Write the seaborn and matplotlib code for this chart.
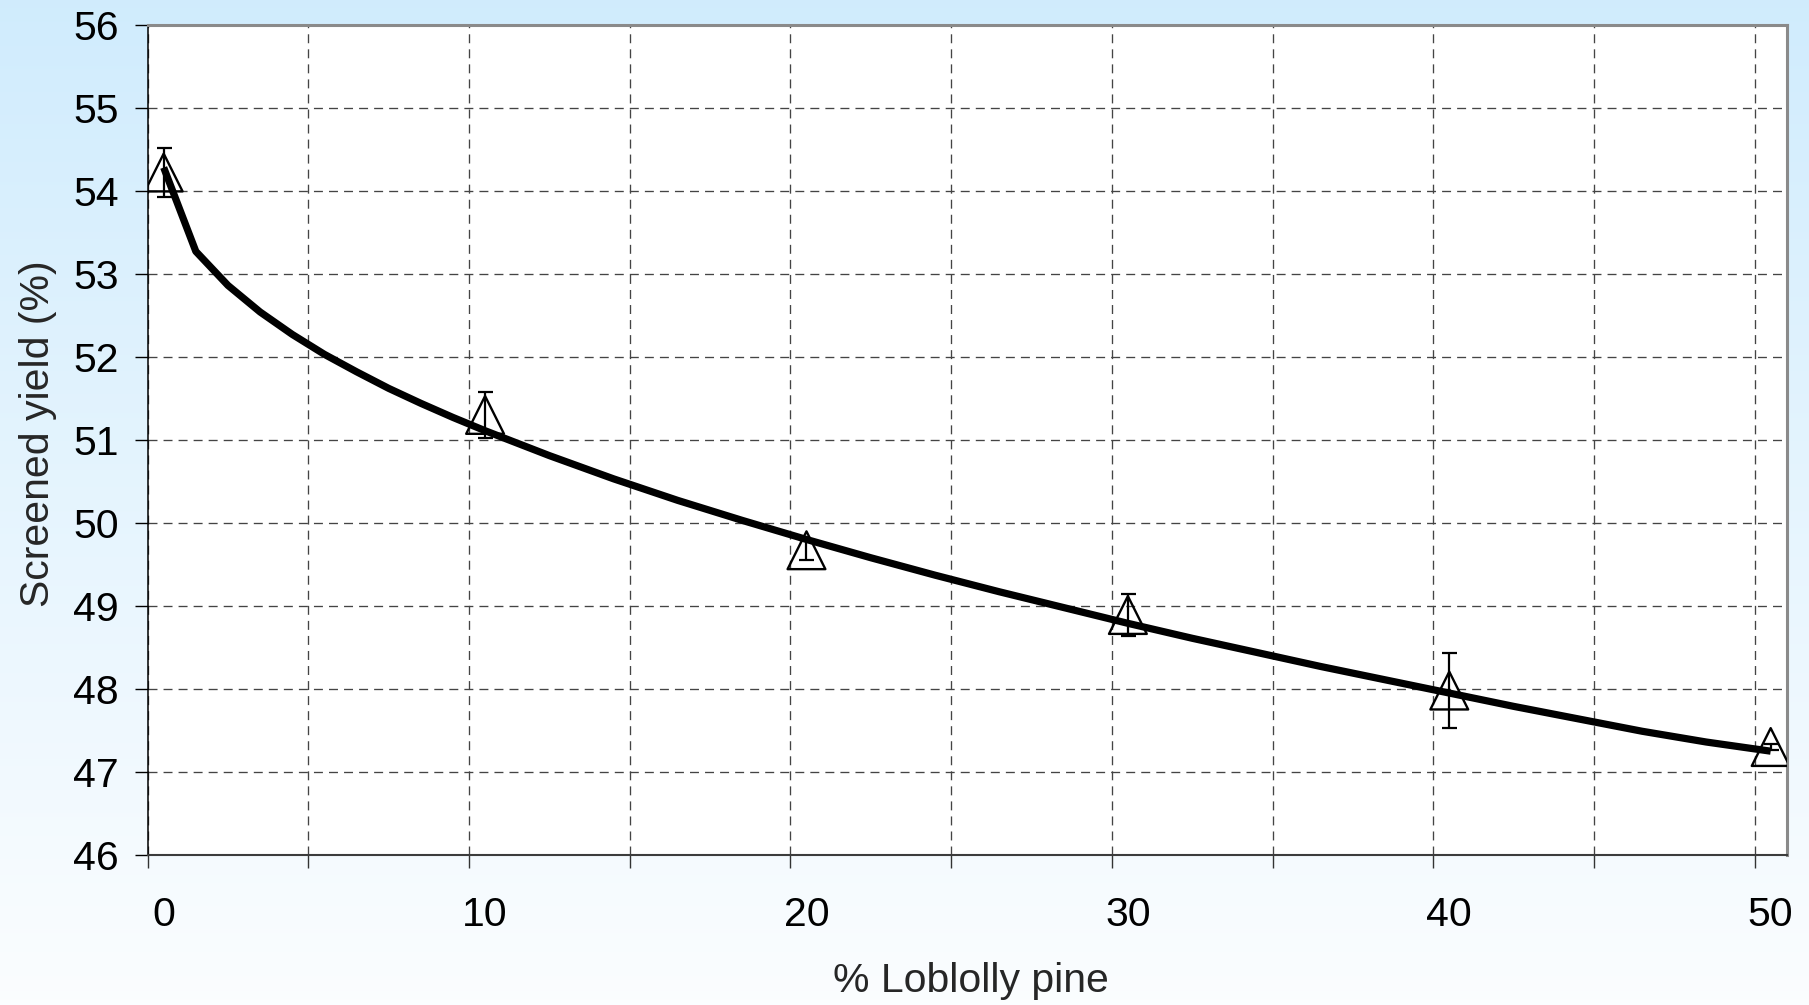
import numpy as np
import matplotlib
matplotlib.use("Agg")
import matplotlib.pyplot as plt
import seaborn as sns
from matplotlib.ticker import FixedLocator

# ---- data ----
pine_pct = [0, 10, 20, 30, 40, 50]
yield_mean = [54.22, 51.30, 49.67, 48.89, 47.98, 47.30]
yield_err = [0.30, 0.28, 0.12, 0.25, 0.45, 0.04]

fit_x = [0, 1, 2, 3, 4, 5, 6, 7, 8, 9, 10, 12, 14, 16, 18, 20, 22, 24, 26, 28,
         30, 32, 34, 36, 38, 40, 42, 44, 46, 48, 50]
fit_y = [54.28, 53.27, 52.86, 52.54, 52.27, 52.03, 51.82, 51.62, 51.44, 51.27,
         51.11, 50.81, 50.53, 50.27, 50.03, 49.80, 49.58, 49.37, 49.17, 48.98,
         48.79, 48.61, 48.44, 48.27, 48.11, 47.95, 47.79, 47.64, 47.49, 47.36,
         47.25]

x_tick_labels = ["0", "10", "20", "30", "40", "50"]
y_ticks = [46, 47, 48, 49, 50, 51, 52, 53, 54, 55, 56]
x_label = "% Loblolly pine"
y_label = "Screened yield (%)"

# ---- style ----
sns.set_style("white")
plt.rcParams["font.family"] = ["Liberation Sans", "DejaVu Sans"]

fig = plt.figure(figsize=(18.09, 10.05), dpi=100)

# gradient background
bg = fig.add_axes([0, 0, 1, 1], zorder=-10)
top_c = np.array([0.816, 0.925, 0.992])
bot_c = np.array([0.985, 0.993, 1.0])
t = np.linspace(0, 1, 256)[:, None]
grad = (top_c[None, :] * (1 - t) + bot_c[None, :] * t)[:, None, :]
bg.imshow(grad, aspect="auto", extent=[0, 1, 0, 1], interpolation="bilinear")
bg.set_axis_off()

ax = fig.add_axes([0.0816, 0.1493, 0.9061, 0.8261])
ax.set_facecolor("white")

sns.lineplot(x=fit_x, y=fit_y, ax=ax, color="black", linewidth=5.2,
             zorder=5, solid_capstyle="butt", solid_joinstyle="round")
ax.errorbar(pine_pct, yield_mean, yerr=yield_err, fmt="none", ecolor="black",
            elinewidth=1.6, capsize=5.4, capthick=1.6, zorder=3)
sns.scatterplot(x=pine_pct, y=yield_mean, ax=ax, marker="^", s=740,
                facecolors="none", edgecolors="black", linewidth=1.7, zorder=4)

ax.set_xlim(-0.5, 50.5)
ax.set_ylim(46, 56)

ax.xaxis.set_major_locator(FixedLocator(pine_pct))
ax.set_xticklabels(x_tick_labels)
ax.xaxis.set_minor_locator(FixedLocator(np.arange(-0.5, 50.5, 5)))
ax.set_yticks(y_ticks)
ax.set_yticklabels([str(v) for v in y_ticks])

grid_kw = dict(color="#444444", linewidth=0.95, linestyle=(0, (6.8, 4.6)))
ax.xaxis.grid(False, which="major")
ax.xaxis.grid(True, which="minor", **grid_kw)
ax.yaxis.grid(True, which="major", **grid_kw)
ax.set_axisbelow(True)

ax.tick_params(axis="x", which="major", length=0, pad=29.5, labelsize=29.5,
               labelcolor="black")
ax.tick_params(axis="x", which="minor", direction="out", length=9.4,
               width=1.0, color="#333333", bottom=True)
ax.tick_params(axis="y", which="major", direction="out", length=9.4,
               width=1.0, color="black", pad=11.5, labelsize=29.5,
               labelcolor="black", left=True)

for side in ("top", "right"):
    ax.spines[side].set_color("#8a8a8a")
    ax.spines[side].set_linewidth(2.2)
ax.spines["left"].set_color("black")
ax.spines["left"].set_linewidth(1.1)
ax.spines["bottom"].set_color("#3c3c3c")
ax.spines["bottom"].set_linewidth(1.5)

ax.set_xlabel(x_label, fontsize=29.5, va="baseline", ha="center")
ax.xaxis.set_label_coords(0.5025, -0.165)
ax.set_ylabel(y_label, fontsize=29.5, va="baseline", ha="center")
ax.yaxis.set_label_coords(-0.0602, 0.507)

fig.savefig("out.png", dpi=100)
